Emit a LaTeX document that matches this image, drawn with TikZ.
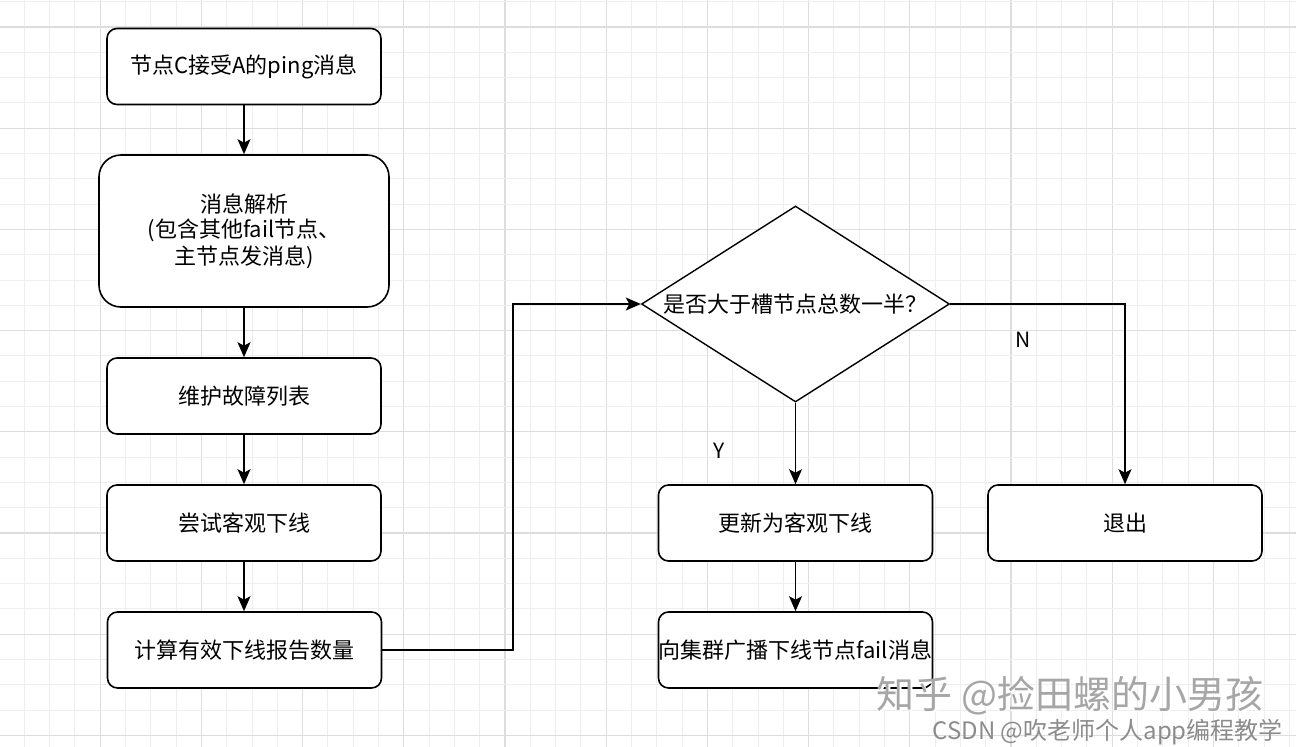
\documentclass[tikz,border=0pt]{standalone}
\usepackage{fontspec}
\setmainfont{Noto Sans CJK SC}
\usetikzlibrary{arrows.meta,shapes.geometric}
\definecolor{gridminor}{HTML}{EEEEEE}
\definecolor{gridmajor}{HTML}{DDDDDD}
\tikzset{
  box/.style={draw=black, line width=1.6pt, rounded corners=10pt, fill=white,
    minimum width=274pt, minimum height=76pt, inner sep=0pt, align=center,
    font=\fontsize{22}{27}\selectfont},
  bigbox/.style={box, rounded corners=22pt, minimum width=290pt, minimum height=152pt},
  decision/.style={draw=black, line width=1.4pt, diamond, aspect=1.57, fill=white,
    minimum width=308pt, minimum height=196pt, inner sep=0pt, font=\fontsize{22}{27}\selectfont},
  flow/.style={line width=1.6pt, -{Stealth[length=15pt,width=13pt,inset=3.5pt]}},
  lbl/.style={font=\fontsize{21}{24}\selectfont, inner sep=0pt},
}
\begin{document}
\begin{tikzpicture}[x=1pt,y=-1pt]
\useasboundingbox (0,0) rectangle (1296,747);
\fill[white] (0,0) rectangle (1296,747);
% grid
\foreach \k in {0,...,52}{
  \pgfmathsetmacro{\xx}{-1+25.3*\k}
  \pgfmathtruncatemacro{\m}{mod(\k,4)}
  \ifnum\m=0 \draw[gridmajor,line width=1.2pt] (\xx,0) -- (\xx,747);
  \else \draw[gridminor,line width=1pt] (\xx,0) -- (\xx,747); \fi
}
\foreach \k in {0,...,29}{
  \pgfmathsetmacro{\yy}{1.7+25.3*\k}
  \pgfmathtruncatemacro{\m}{mod(\k,4)}
  \ifnum\m=1 \draw[gridmajor,line width=1.2pt] (0,\yy) -- (1296,\yy);
  \else \draw[gridminor,line width=1pt] (0,\yy) -- (1296,\yy); \fi
}
% nodes
\node[box] (n1) at (244,66.5) {节点C接受A的ping消息};
\node[bigbox] (n2) at (244,231) {\raisebox{-2pt}{消息解析}\\(包含其他fail节点、\\主节点发消息)};
\node[box] (n3) at (244,396) {维护故障列表};
\node[box] (n4) at (244,523) {尝试客观下线};
\node[box] (n5) at (244.5,650) {计算有效下线报告数量};
\node[decision] (d) at (795.5,304) {是否大于槽节点总数一半？};
\node[box,inner xsep=0pt] (n6) at (795.5,523) {更新为客观下线};
\node[box,inner xsep=0pt] (n7) at (795.5,650) {向集群广播下线节点fail消息};
\node[box] (n8) at (1125,523) {退出};
% connectors
\draw[flow] (n1.south) -- (n2.north);
\draw[flow] (n2.south) -- (n3.north);
\draw[flow] (n3.south) -- (n4.north);
\draw[flow] (n4.south) -- (n4.south |- n5.north);
\draw[flow] (n5.east) -| (513,304) -- (d.west);
\draw[flow] (d.east) -| (n8.north);
\draw[flow] (d.south) -- (n6.north);
\draw[flow] (n6.south) -- (n7.north);
\node[lbl] (ly) at (719,451) {Y};
\node[lbl] (ln) at (1023,340) {N};
% watermarks
\node[font=\fontsize{38}{40}\selectfont, text=white, inner sep=0pt] (wm0) at (1071.5,697.5) {知乎 @捡田螺的小男孩};
\node[font=\fontsize{38}{40}\selectfont, text=black!35, inner sep=0pt] (wm1) at (1070,696) {知乎 @捡田螺的小男孩};
\node[font=\fontsize{24}{26}\selectfont, text=black!45, inner sep=0pt, anchor=east] (wm2) at (1283,732) {CSDN @吹老师个人app编程教学};
\end{tikzpicture}
\end{document}
